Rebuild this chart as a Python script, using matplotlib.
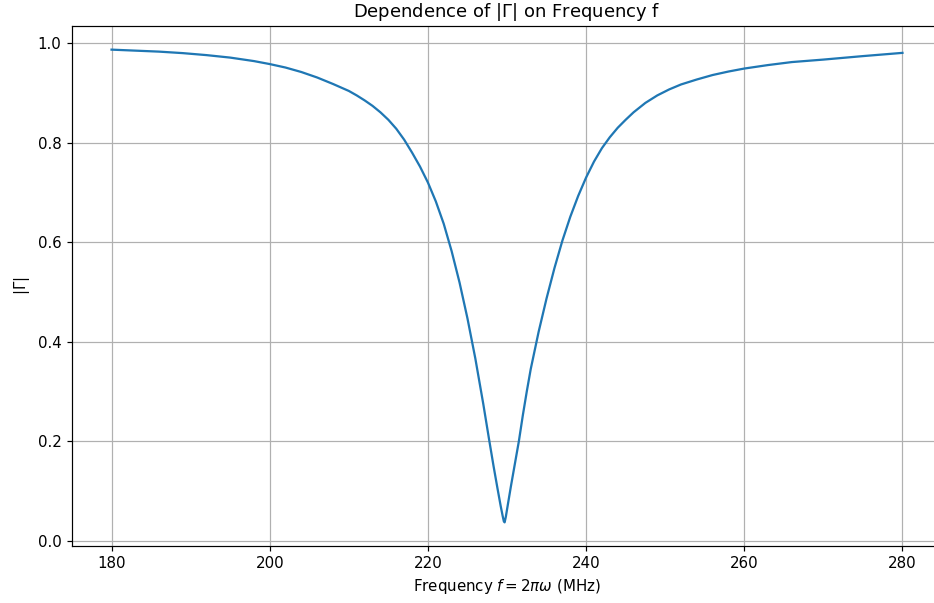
import matplotlib
matplotlib.use("Agg")
from matplotlib import pyplot as plt

# values
freq_mhz = [180.0, 183.0, 186.0, 189.0, 192.0, 195.0, 198.0, 200.0, 202.0, 204.0,
            206.0, 208.0, 210.0, 211.0, 212.0, 213.0, 214.0, 215.0, 216.0, 217.0,
            218.0, 219.0, 220.0, 221.0, 222.0, 223.0, 224.0, 225.0, 226.0, 227.0,
            227.7, 228.3, 228.8, 229.2, 229.45, 229.6, 229.7, 229.85, 230.1, 230.5,
            231.0, 231.5, 232.0, 232.5, 233.0, 234.0, 235.0, 236.0, 237.0, 238.0,
            239.0, 240.0, 241.0, 242.0, 243.0, 244.0, 245.0, 246.0, 247.5, 249.0,
            250.5, 252.0, 254.0, 256.0, 258.0, 260.0, 263.0, 266.0, 270.0, 275.0,
            280.0]
gamma_abs = [0.987, 0.985, 0.983, 0.980, 0.976, 0.971, 0.964, 0.958, 0.951, 0.942,
             0.931, 0.918, 0.904, 0.895, 0.885, 0.874, 0.861, 0.846, 0.828, 0.806,
             0.780, 0.752, 0.720, 0.682, 0.637, 0.582, 0.519, 0.447, 0.366, 0.275,
             0.207, 0.150, 0.105, 0.070, 0.050, 0.039, 0.037, 0.048, 0.072, 0.110,
             0.155, 0.200, 0.252, 0.300, 0.345, 0.420, 0.487, 0.548, 0.603, 0.651,
             0.693, 0.730, 0.762, 0.789, 0.811, 0.830, 0.846, 0.861, 0.880, 0.895,
             0.907, 0.917, 0.927, 0.936, 0.943, 0.949, 0.956, 0.962, 0.967, 0.974,
             0.9805]

DPI = 108
fig = plt.figure(figsize=(935 / DPI, 603 / DPI), dpi=DPI)
ax = fig.add_axes([72 / 935, 57 / 603, 870 / 935, 520 / 603])

ax.plot(freq_mhz, gamma_abs)
ax.set_title(r'Dependence of $|\Gamma|$ on Frequency f')
ax.set_xlabel(r'Frequency $f = 2\pi\omega$ (MHz)')
ax.set_ylabel(r'$|\Gamma|$')
ax.grid(True)

fig.savefig('out.png', dpi=DPI)
